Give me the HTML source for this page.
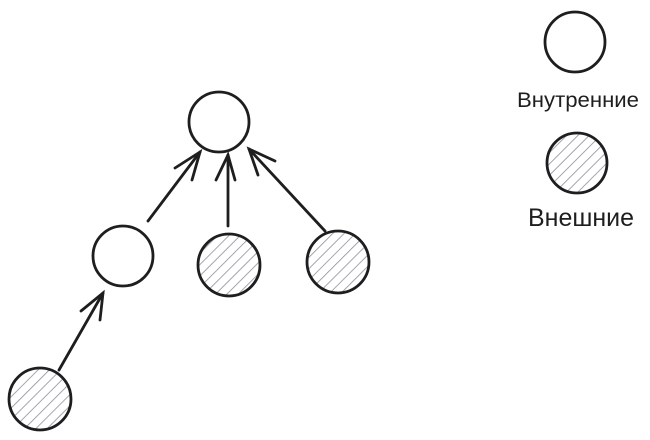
<!DOCTYPE html>
<html><head><meta charset="utf-8"><style>html,body{margin:0;padding:0;background:#fff}svg{display:block}</style></head><body>
<svg width="650" height="440" viewBox="0 0 650 440" xmlns="http://www.w3.org/2000/svg">
<defs>
<pattern id="h" patternUnits="userSpaceOnUse" width="8" height="8" patternTransform="rotate(45)">
<line x1="0" y1="0" x2="0" y2="8" stroke="#8a9099" stroke-width="1.6"/>
</pattern>
</defs>
<g stroke="#1e1e1e" stroke-width="2.8" fill="none" stroke-linecap="round">
<circle cx="219" cy="122" r="30" fill="#fff"/>
<circle cx="123" cy="256" r="30" fill="#fff"/>
<circle cx="229" cy="265" r="31" fill="url(#h)"/>
<circle cx="338" cy="262" r="31" fill="url(#h)"/>
<circle cx="40" cy="399" r="31" fill="url(#h)"/>
<circle cx="575" cy="42" r="30" fill="#fff"/>
<circle cx="577" cy="163" r="30" fill="url(#h)"/>
<line x1="148" y1="221" x2="200" y2="152"/>
<polyline points="175,168 200,152 192,180"/>
<line x1="228" y1="226" x2="228" y2="155"/>
<polyline points="216,180 228,155 235,180"/>
<line x1="325" y1="231" x2="249" y2="149"/>
<polyline points="275,161 249,149 258,175"/>
<line x1="59" y1="370" x2="103" y2="293"/>
<polyline points="81,311 103,293 100,320"/>
</g>
<text x="578" y="107" font-family="Liberation Sans, sans-serif" font-size="21" fill="#1e1e1e" text-anchor="middle" textLength="122" lengthAdjust="spacingAndGlyphs">Внутренние</text>
<text x="581" y="226" font-family="Liberation Sans, sans-serif" font-size="25" fill="#1e1e1e" text-anchor="middle" textLength="106" lengthAdjust="spacingAndGlyphs">Внешние</text>
</svg>
</body></html>
